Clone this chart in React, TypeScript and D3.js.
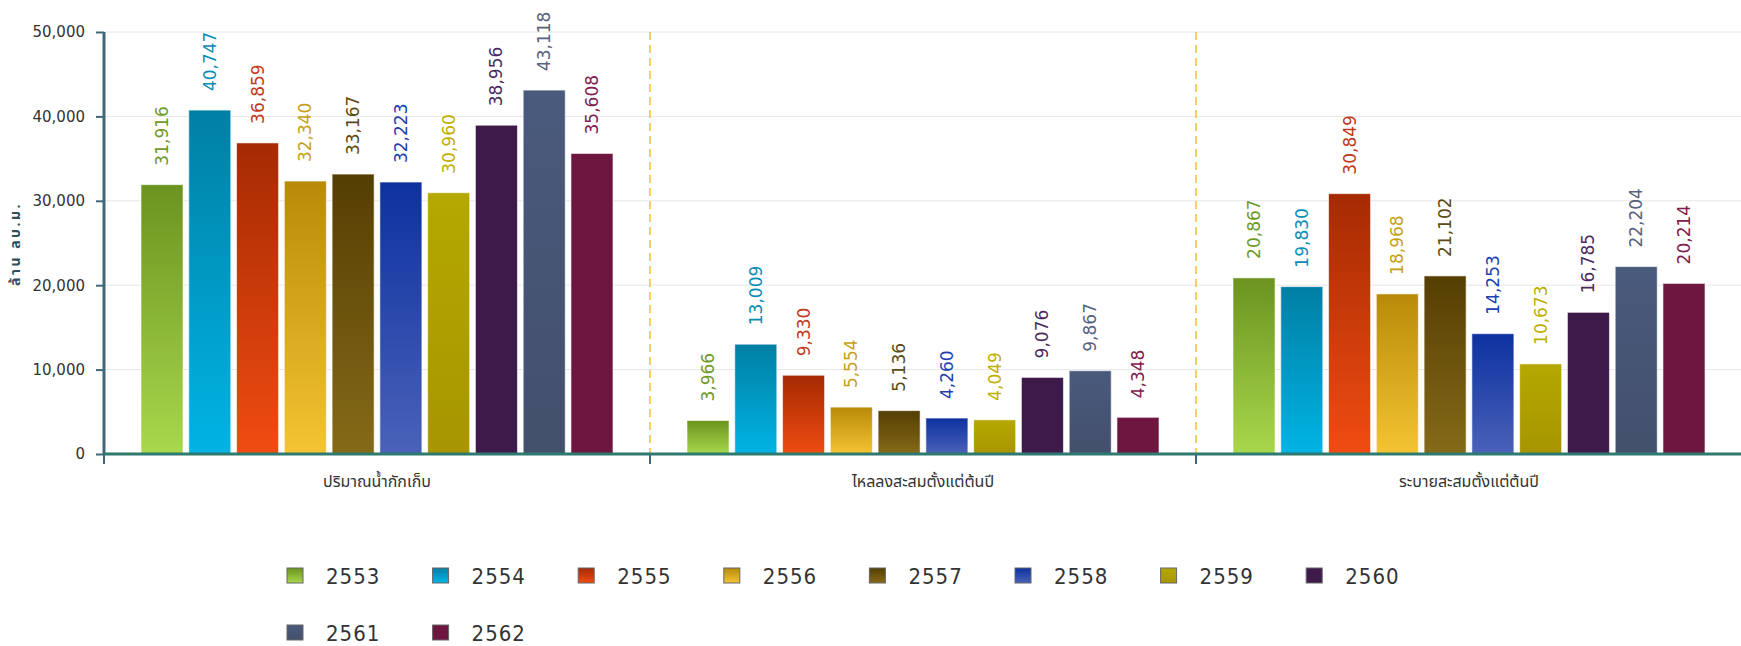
import React, { useEffect, useRef } from "react";
import * as d3 from "d3";

const categories = ["ปริมาณน้ำกักเก็บ", "ไหลลงสะสมตั้งแต่ต้นปี", "ระบายสะสมตั้งแต่ต้นปี"];
const years = ["2553", "2554", "2555", "2556", "2557", "2558", "2559", "2560", "2561", "2562"];
const storage = [31916, 40747, 36859, 32340, 33167, 32223, 30960, 38956, 43118, 35608];
const inflow = [3966, 13009, 9330, 5554, 5136, 4260, 4049, 9076, 9867, 4348];
const release = [20867, 19830, 30849, 18968, 21102, 14253, 10673, 16785, 22204, 20214];
const yTicks = [0, 10000, 20000, 30000, 40000, 50000];
const yTitle = "ล้าน ลบ.ม.";

// top / bottom of each bar gradient, and label colour
const gradTop = ["#6b931f", "#007fa3", "#a52a02", "#b88a08", "#553e03", "#0d31a0", "#b5a800", "#3e1a4a", "#4a5a7c", "#6d1640"];
const gradBottom = ["#a8d84c", "#00b4e4", "#f04c12", "#f5c433", "#856a18", "#4a62b8", "#a89500", "#3e1a4a", "#43506c", "#6d1640"];
const labelColors = ["#6f9a27", "#0a8db5", "#c0391a", "#c8a018", "#5b4a14", "#1f3fb0", "#bfb000", "#4b2a5e", "#56627f", "#80204e"];

const W = 1741;
const H = 646;

const App = () => {
  const svgRef = useRef<SVGSVGElement>(null);

  useEffect(() => {
    const svg = d3.select(svgRef.current);
    svg.selectAll("*").remove();

    const series = [storage, inflow, release];
    const left = 104;
    const right = 1742;
    const bottom = 454;
    const top = 32;

    const y = d3.scaleLinear().domain([0, 50000]).range([bottom, top]);
    const x0 = d3.scaleBand<string>().domain(categories).range([left, right]);
    const x1 = d3.scaleBand<string>().domain(years).range([37, 509]).paddingInner(0.12);

    const defs = svg.append("defs");
    years.forEach((yr, i) => {
      const g = defs.append("linearGradient")
        .attr("id", "g" + yr)
        .attr("x1", 0).attr("y1", 0).attr("x2", 0).attr("y2", 1);
      g.append("stop").attr("offset", "0%").attr("stop-color", gradTop[i]);
      g.append("stop").attr("offset", "100%").attr("stop-color", gradBottom[i]);
    });

    // grid
    svg.append("g").selectAll("line").data(yTicks.slice(1)).join("line")
      .attr("x1", left).attr("x2", W)
      .attr("y1", d => y(d)).attr("y2", d => y(d))
      .attr("stroke", "#e6e6e6").attr("stroke-width", 1);

    // category separators
    svg.append("g").selectAll("line").data(categories.slice(1)).join("line")
      .attr("x1", d => x0(d)!).attr("x2", d => x0(d)!)
      .attr("y1", top).attr("y2", bottom)
      .attr("stroke", "#f2c230").attr("stroke-width", 1.5)
      .attr("stroke-dasharray", "8,5");

    // bars
    const groups = svg.append("g").selectAll("g").data(categories).join("g")
      .attr("transform", d => `translate(${x0(d)},0)`);

    groups.each(function (cat, ci) {
      const g = d3.select(this);
      const vals = series[ci];
      g.selectAll("rect").data(years).join("rect")
        .attr("x", d => x1(d)!)
        .attr("width", x1.bandwidth())
        .attr("y", (d, i) => y(vals[i]))
        .attr("height", (d, i) => bottom - y(vals[i]))
        .attr("fill", d => `url(#g${d})`)
        .attr("stroke", "#ffffff").attr("stroke-opacity", 0.6).attr("stroke-width", 1);

      g.selectAll("text").data(years).join("text")
        .attr("transform", (d, i) => `translate(${x1(d)! + x1.bandwidth() / 2},${y(vals[i]) - 19}) rotate(-90)`)
        .attr("dominant-baseline", "central")
        .attr("font-family", "DejaVu Sans, sans-serif")
        .attr("font-size", 17)
        .attr("fill", (d, i) => labelColors[i])
        .text((d, i) => d3.format(",")(vals[i]));
    });

    // y axis
    const yAxis = svg.append("g").attr("transform", `translate(${left},0)`)
      .call(d3.axisLeft(y).tickValues(yTicks).tickSize(8).tickPadding(11).tickFormat(d3.format(",")));
    yAxis.select(".domain").attr("d", `M0,${top}V${bottom}`).attr("stroke", "#3e6878").attr("stroke-width", 3);
    yAxis.selectAll(".tick line").attr("stroke", "#3e6878").attr("stroke-width", 2);
    yAxis.selectAll(".tick text")
      .attr("font-family", "DejaVu Sans, sans-serif").attr("font-size", 15).attr("fill", "#333");

    // x axis
    const xAxis = svg.append("g").attr("transform", `translate(0,${bottom})`)
      .call(d3.axisBottom(x0).tickSize(0).tickPadding(22));
    xAxis.select(".domain").attr("d", `M${left},0H${W}`).attr("stroke", "#2f7a70").attr("stroke-width", 3);
    xAxis.selectAll(".tick text")
      .attr("font-family", "'Noto Sans Thai', 'DejaVu Sans', sans-serif").attr("font-size", 16).attr("fill", "#333");
    xAxis.append("g").selectAll("line").data(categories).join("line")
      .attr("x1", d => x0(d)!).attr("x2", d => x0(d)!)
      .attr("y1", 1).attr("y2", 10)
      .attr("stroke", "#3e6878").attr("stroke-width", 2);

    // y title
    svg.append("text")
      .attr("transform", "translate(15,244) rotate(-90)")
      .attr("text-anchor", "middle")
      .attr("dominant-baseline", "central")
      .attr("font-family", "'Noto Sans Thai', 'DejaVu Sans', sans-serif")
      .attr("font-size", 14).attr("font-weight", "bold").attr("fill", "#2f4f5f")
      .attr("letter-spacing", 2.5)
      .text(yTitle);

    // legend
    const perRow = 8;
    const itemW = 145.6;
    const legend = svg.append("g").selectAll("g").data(years).join("g")
      .attr("transform", (d, i) => `translate(${287 + (i % perRow) * itemW},${576 + Math.floor(i / perRow) * 57})`);
    legend.append("rect")
      .attr("x", 0).attr("y", -8).attr("width", 16).attr("height", 15)
      .attr("fill", d => `url(#g${d})`)
      .attr("stroke", "#666").attr("stroke-width", 1);
    legend.append("text")
      .attr("x", 39).attr("y", 0)
      .attr("dominant-baseline", "central")
      .attr("font-family", "'DejaVu Sans Condensed', 'DejaVu Sans', sans-serif")
      .attr("font-stretch", "condensed")
      .attr("font-size", 22).attr("letter-spacing", 1).attr("fill", "#333")
      .text(d => d);
  }, []);

  return (
    <svg ref={svgRef} width={W} height={H} style={{ position: "absolute", left: 0, top: 0, background: "#fff" }} />
  );
};

export default App;
